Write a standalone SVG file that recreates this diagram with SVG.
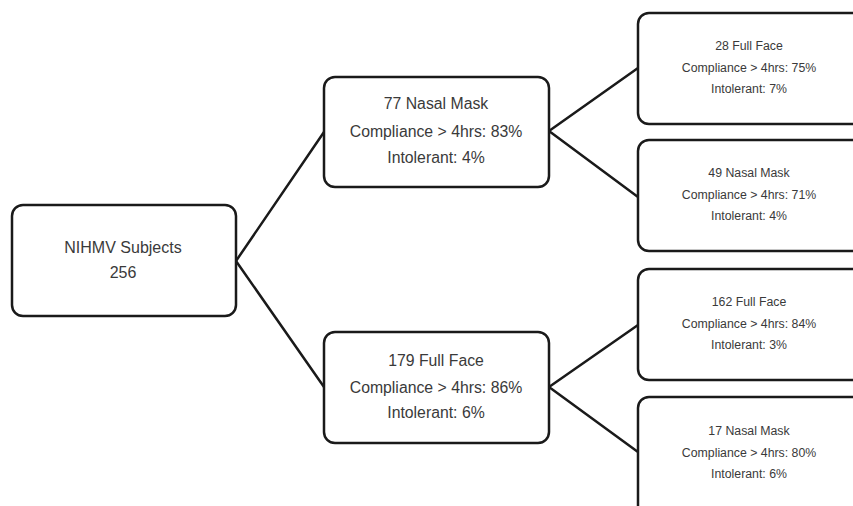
<svg xmlns="http://www.w3.org/2000/svg" width="853" height="506" viewBox="0 0 853 506">
<style>
.box{fill:#fff;stroke:#1a1a1a;stroke-width:2.5}
.ln{stroke:#1a1a1a;stroke-width:2.5;fill:none}
text{font-family:"Liberation Sans",Arial,sans-serif;fill:#3a3a3a;text-anchor:middle}
.t1{font-size:16px}
.t2{font-size:15.8px}
.t3{font-size:12.3px}
</style>
<rect width="853" height="506" fill="#fff"/>
<g id="connectors">
<path class="ln" d="M236,261 L324,132 M236,261 L324,387"/>
<path class="ln" d="M549,131 L638,68 M549,131 L638,197"/>
<path class="ln" d="M549,387 L638,325 M549,387 L638,452"/>
</g>
<g id="root">
<rect class="box" x="12" y="205" width="224" height="111" rx="11"/>
<text class="t1" x="123" y="253">NIHMV Subjects</text>
<text class="t1" x="123" y="278">256</text>
</g>
<g id="nasal">
<rect class="box" x="324" y="77" width="225" height="110" rx="11"/>
<text class="t2" x="436" y="109">77 Nasal Mask</text>
<text class="t2" x="436" y="137">Compliance &gt; 4hrs: 83%</text>
<text class="t2" x="436" y="163">Intolerant: 4%</text>
</g>
<g id="fullface">
<rect class="box" x="324" y="332" width="225" height="111" rx="11"/>
<text class="t2" x="436" y="366">179 Full Face</text>
<text class="t2" x="436" y="393">Compliance &gt; 4hrs: 86%</text>
<text class="t2" x="436" y="418">Intolerant: 6%</text>
</g>
<g id="nn-ff">
<rect class="box" x="638" y="13" width="240" height="111" rx="11"/>
<text class="t3" x="749" y="50">28 Full Face</text>
<text class="t3" x="749" y="72">Compliance &gt; 4hrs: 75%</text>
<text class="t3" x="749" y="93">Intolerant: 7%</text>
</g>
<g id="nn-nm">
<rect class="box" x="638" y="140" width="240" height="111" rx="11"/>
<text class="t3" x="749" y="177">49 Nasal Mask</text>
<text class="t3" x="749" y="199">Compliance &gt; 4hrs: 71%</text>
<text class="t3" x="749" y="220">Intolerant: 4%</text>
</g>
<g id="ff-ff">
<rect class="box" x="638" y="269" width="240" height="111" rx="11"/>
<text class="t3" x="749" y="306">162 Full Face</text>
<text class="t3" x="749" y="328">Compliance &gt; 4hrs: 84%</text>
<text class="t3" x="749" y="349">Intolerant: 3%</text>
</g>
<g id="ff-nm">
<rect class="box" x="638" y="397" width="240" height="125" rx="11"/>
<text class="t3" x="749" y="435">17 Nasal Mask</text>
<text class="t3" x="749" y="457">Compliance &gt; 4hrs: 80%</text>
<text class="t3" x="749" y="478">Intolerant: 6%</text>
</g>
</svg>
